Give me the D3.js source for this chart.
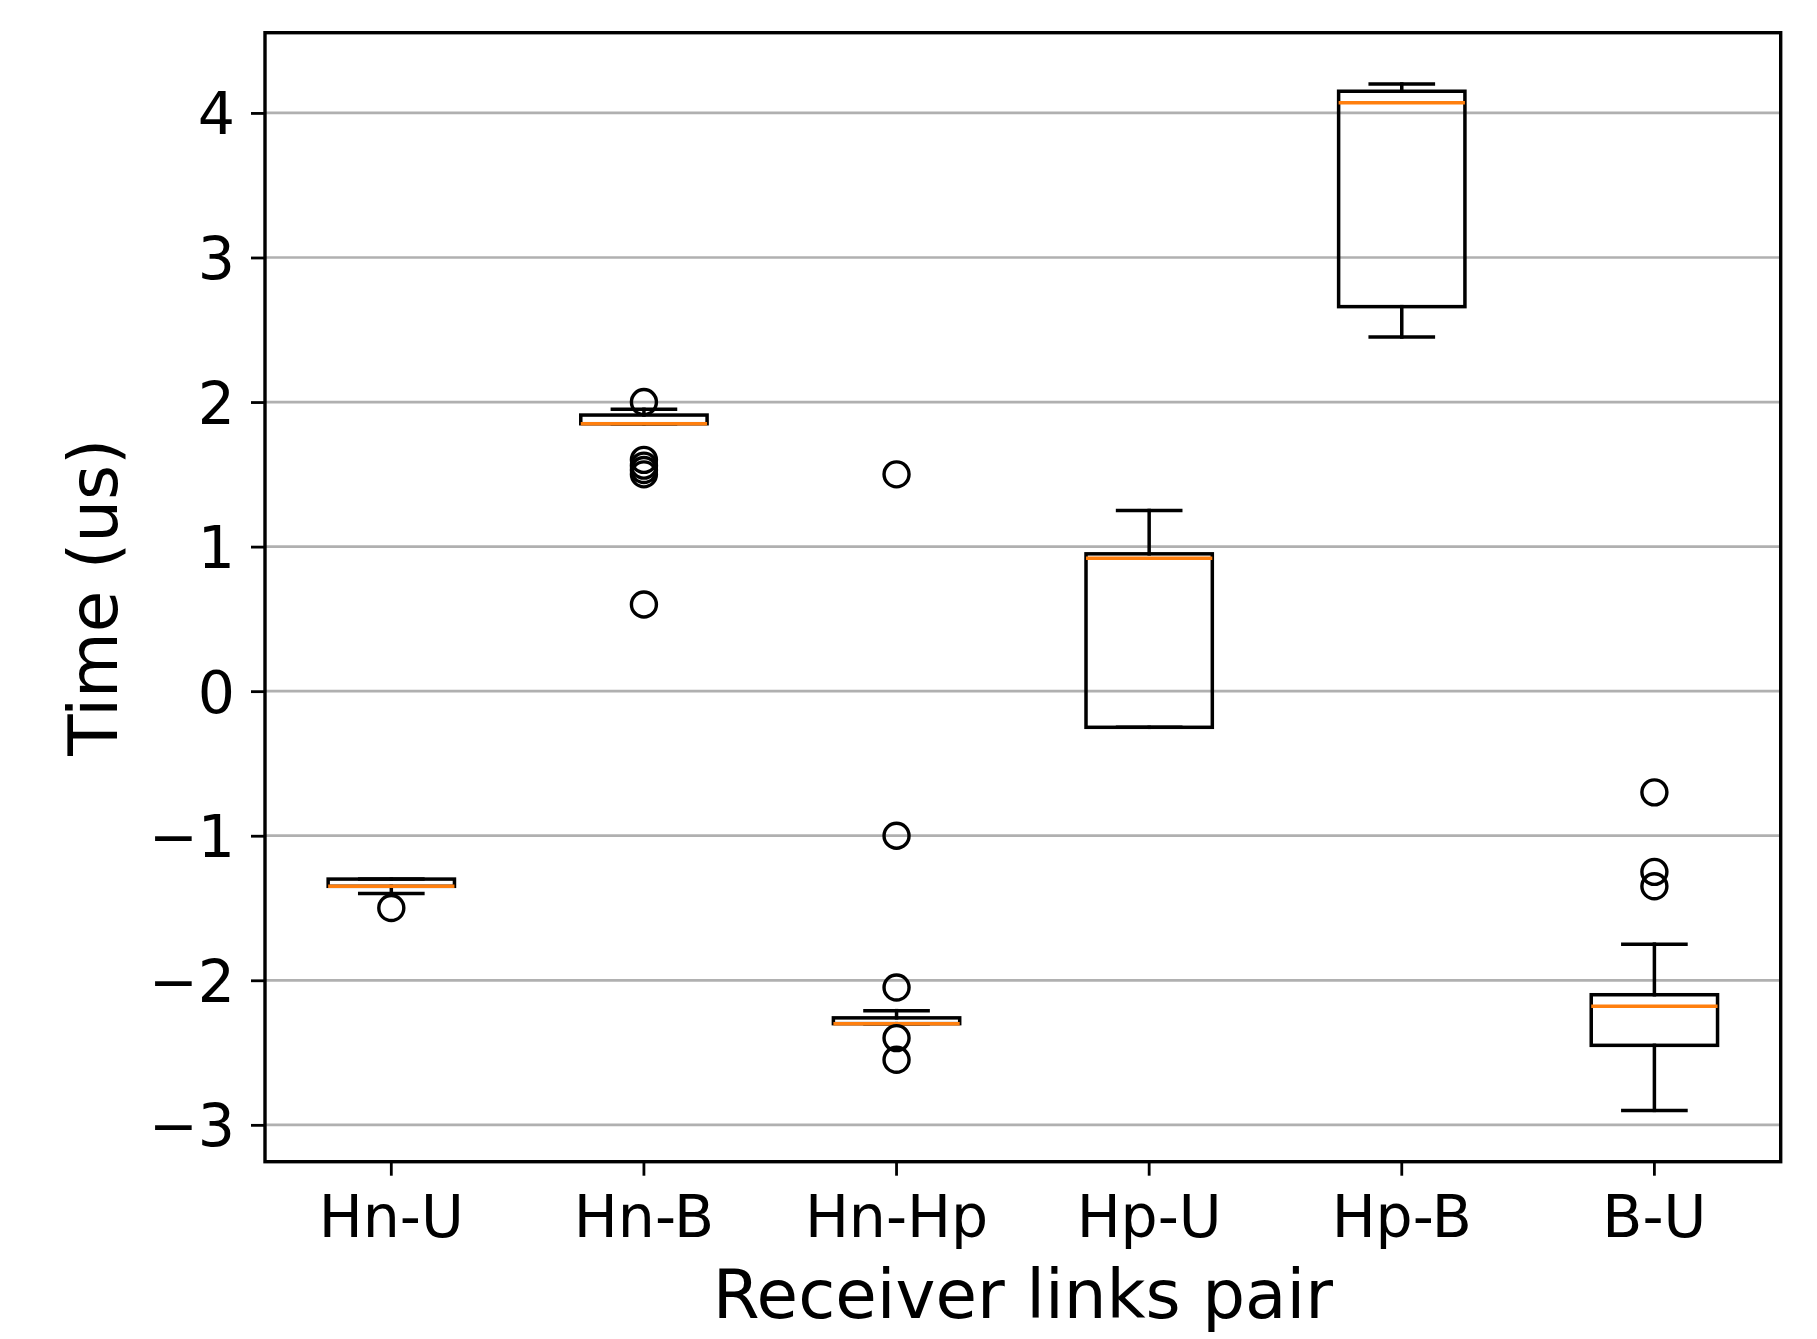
<!DOCTYPE html>
<html>
<head>
<meta charset="utf-8">
<script src="https://cdn.jsdelivr.net/npm/d3@7"></script>
<style>
    body { margin: 0; background: #ffffff; }
    svg { display: block; font-family: "DejaVu Sans", sans-serif; }
    .label { fill: #000000; }
</style>
</head>
<body>
<svg id="chart" width="1817" height="1339"></svg>
<script>
const CATEGORIES = ["Hn-U", "Hn-B", "Hn-Hp", "Hp-U", "Hp-B", "B-U"];
const Q1_VALUES = [-1.35, 1.85, -2.30, -0.25, 2.66, -2.45];
const MEDIAN_VALUES = [-1.35, 1.85, -2.30, 0.92, 4.07, -2.18];
const Q3_VALUES = [-1.30, 1.91, -2.26, 0.95, 4.15, -2.10];
const WHISKER_LOW = [-1.40, 1.85, -2.30, -0.25, 2.45, -2.90];
const WHISKER_HIGH = [-1.30, 1.95, -2.21, 1.25, 4.20, -1.75];
const OUTLIERS = [
    [-1.50],
    [2.00, 1.60, 1.56, 1.53, 1.50, 0.60],
    [1.50, -1.00, -2.05, -2.40, -2.55],
    [],
    [],
    [-0.70, -1.25, -1.35]
];
const Y_TICKS = [-3, -2, -1, 0, 1, 2, 3, 4];

const X_LABEL = "Receiver links pair";
const Y_LABEL = "Time (us)";

const ORANGE = "#ff7f0e";

const plot = {left: 265, right: 1780.7, top: 32.7, bottom: 1161.7};

const svg = d3.select("#chart");

const boxes = CATEGORIES.map((name, i) => {
    return {
        "name": name,
        "q1": Q1_VALUES[i],
        "median": MEDIAN_VALUES[i],
        "q3": Q3_VALUES[i],
        "low": WHISKER_LOW[i],
        "high": WHISKER_HIGH[i],
        "fliers": OUTLIERS[i]
    };
});

// Scales (matplotlib style 5% margin around data)
const allValues = boxes.flatMap((b) => [b.low, b.high].concat(b.fliers));
const minValue = d3.min(allValues);
const maxValue = d3.max(allValues);
const margin = (maxValue - minValue) * 0.05;

const yScale = d3.scaleLinear()
    .domain([minValue - margin, maxValue + margin])
    .range([plot.bottom, plot.top]);

const xScale = d3.scaleBand()
    .domain(CATEGORIES)
    .range([plot.left, plot.right]);

const center = (name) => xScale(name) + xScale.bandwidth() / 2;
const boxWidth = xScale.step() * 0.5;
const capWidth = xScale.step() * 0.25;

// Grid
svg.append("g")
    .selectAll("line")
    .data(Y_TICKS)
    .enter()
    .append("line")
    .attr("x1", plot.left)
    .attr("x2", plot.right)
    .attr("y1", (d) => yScale(d))
    .attr("y2", (d) => yScale(d))
    .attr("stroke", "#b0b0b0")
    .attr("stroke-width", 2.7);

// Boxes
const groups = svg.append("g")
    .selectAll(".box")
    .data(boxes)
    .enter()
    .append("g")
    .classed("box", true)
    .attr("transform", (d) => "translate(" + center(d.name) + " 0)");

const lineStyle = (sel) => sel
    .attr("stroke", "#000000")
    .attr("stroke-width", 3.5)
    .attr("stroke-linecap", "square")
    .attr("fill", "none");

groups.append("line")
    .attr("x1", 0).attr("x2", 0)
    .attr("y1", (d) => yScale(d.q1))
    .attr("y2", (d) => yScale(d.low))
    .call(lineStyle);

groups.append("line")
    .attr("x1", 0).attr("x2", 0)
    .attr("y1", (d) => yScale(d.q3))
    .attr("y2", (d) => yScale(d.high))
    .call(lineStyle);

groups.append("line")
    .attr("x1", -capWidth / 2).attr("x2", capWidth / 2)
    .attr("y1", (d) => yScale(d.low))
    .attr("y2", (d) => yScale(d.low))
    .call(lineStyle);

groups.append("line")
    .attr("x1", -capWidth / 2).attr("x2", capWidth / 2)
    .attr("y1", (d) => yScale(d.high))
    .attr("y2", (d) => yScale(d.high))
    .call(lineStyle);

groups.append("rect")
    .attr("x", -boxWidth / 2)
    .attr("width", boxWidth)
    .attr("y", (d) => yScale(d.q3))
    .attr("height", (d) => yScale(d.q1) - yScale(d.q3))
    .call(lineStyle)
    .attr("stroke-linejoin", "miter");

groups.append("line")
    .attr("x1", -boxWidth / 2).attr("x2", boxWidth / 2)
    .attr("y1", (d) => yScale(d.median))
    .attr("y2", (d) => yScale(d.median))
    .attr("stroke", ORANGE)
    .attr("stroke-width", 3.5);

groups.selectAll("circle")
    .data((d) => d.fliers)
    .enter()
    .append("circle")
    .attr("cx", 0)
    .attr("cy", (v) => yScale(v))
    .attr("r", 12.5)
    .attr("fill", "none")
    .attr("stroke", "#000000")
    .attr("stroke-width", 3.4);

// Axes
const yAxis = d3.axisLeft(yScale)
    .tickValues(Y_TICKS)
    .tickSize(14)
    .tickPadding(16)
    .tickFormat((d) => d < 0 ? "\u2212" + Math.abs(d) : String(d));

const yAxisGroup = svg.append("g")
    .attr("transform", "translate(" + plot.left + " 0)")
    .call(yAxis);

const xAxis = d3.axisBottom(xScale)
    .tickSize(14)
    .tickPadding(20);

const xAxisGroup = svg.append("g")
    .attr("transform", "translate(0 " + plot.bottom + ")")
    .call(xAxis);

[yAxisGroup, xAxisGroup].forEach((g) => {
    g.select(".domain").remove();
    g.selectAll(".tick line")
        .attr("stroke", "#000000")
        .attr("stroke-width", 2.8);
    g.selectAll(".tick text")
        .attr("fill", "#000000")
        .attr("font-family", "DejaVu Sans")
        .attr("font-size", 58.5);
});

yAxisGroup.selectAll(".tick text").attr("dy", "0.36em");

// Frame
svg.append("rect")
    .attr("x", plot.left)
    .attr("y", plot.top)
    .attr("width", plot.right - plot.left)
    .attr("height", plot.bottom - plot.top)
    .attr("fill", "none")
    .attr("stroke", "#000000")
    .attr("stroke-width", 3.4);

// Axis labels
svg.append("text")
    .classed("label", true)
    .attr("x", (plot.left + plot.right) / 2)
    .attr("y", 1318)
    .attr("text-anchor", "middle")
    .attr("font-size", 67.5)
    .text(X_LABEL);

svg.append("text")
    .classed("label", true)
    .attr("transform", "translate(117 " + (plot.top + plot.bottom) / 2 + ") rotate(-90)")
    .attr("text-anchor", "middle")
    .attr("font-size", 67.5)
    .text(Y_LABEL);
</script>
</body>
</html>
